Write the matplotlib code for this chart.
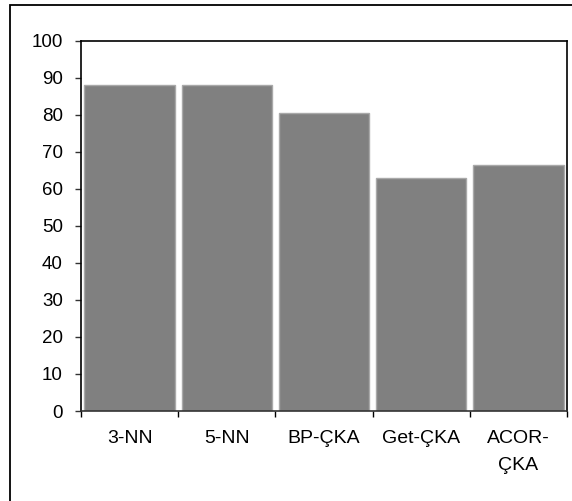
import matplotlib
matplotlib.use("Agg")
import matplotlib.pyplot as plt
from matplotlib.patches import Rectangle
import numpy as np

# Accuracy (%) per classifier
categories = ["3-NN", "5-NN", "BP-ÇKA", "Get-ÇKA", "ACOR-\nÇKA"]
values = [88.1, 88.1, 80.4, 63.0, 66.3]
y_ticks = [0, 10, 20, 30, 40, 50, 60, 70, 80, 90, 100]

plt.rcParams["font.family"] = ["Liberation Sans", "DejaVu Sans"]

W, H = 572, 501
fig = plt.figure(figsize=(W / 100, H / 100), dpi=100)
fig.patch.set_facecolor("white")

# outer chart frame (left and top edges visible)
fig.patches.append(Rectangle((9.5 / W, -0.2), 1.5, (H - 4.5) / H + 0.2,
                             transform=fig.transFigure, fill=False,
                             edgecolor="black", linewidth=1.3))

ax = fig.add_axes([81 / W, (H - 411) / H, (567 - 81) / W, (411 - 40.5) / H])
x = np.arange(len(categories))
ax.bar(x, values, width=0.93, color="#808080", edgecolor="#a9a9a9",
       linewidth=1.0)

ax.set_xlim(-0.5, len(categories) - 0.5)
ax.set_ylim(0, 100)
ax.set_yticks(y_ticks)
ax.set_yticklabels([str(v) for v in y_ticks])

# category boundary ticks, labels centred on bars
ax.set_xticks(np.arange(len(categories) + 1) - 0.5)
ax.set_xticklabels([])
ax.set_xticks(x, minor=True)
ax.set_xticklabels(categories, minor=True, linespacing=1.75)
ax.tick_params(axis="x", which="major", direction="out", length=4,
               width=1, color="black")
ax.tick_params(axis="x", which="minor", length=0, pad=13.5, labelsize=14)
ax.tick_params(axis="y", direction="out", length=4, width=1,
               color="#333333", pad=9, labelsize=13.5)

for s in ["left", "top", "right"]:
    ax.spines[s].set_color("black")
    ax.spines[s].set_linewidth(1.2)
ax.spines["bottom"].set_color("#333333")
ax.spines["bottom"].set_linewidth(1.2)

fig.savefig("out.png", dpi=100, facecolor="white")
